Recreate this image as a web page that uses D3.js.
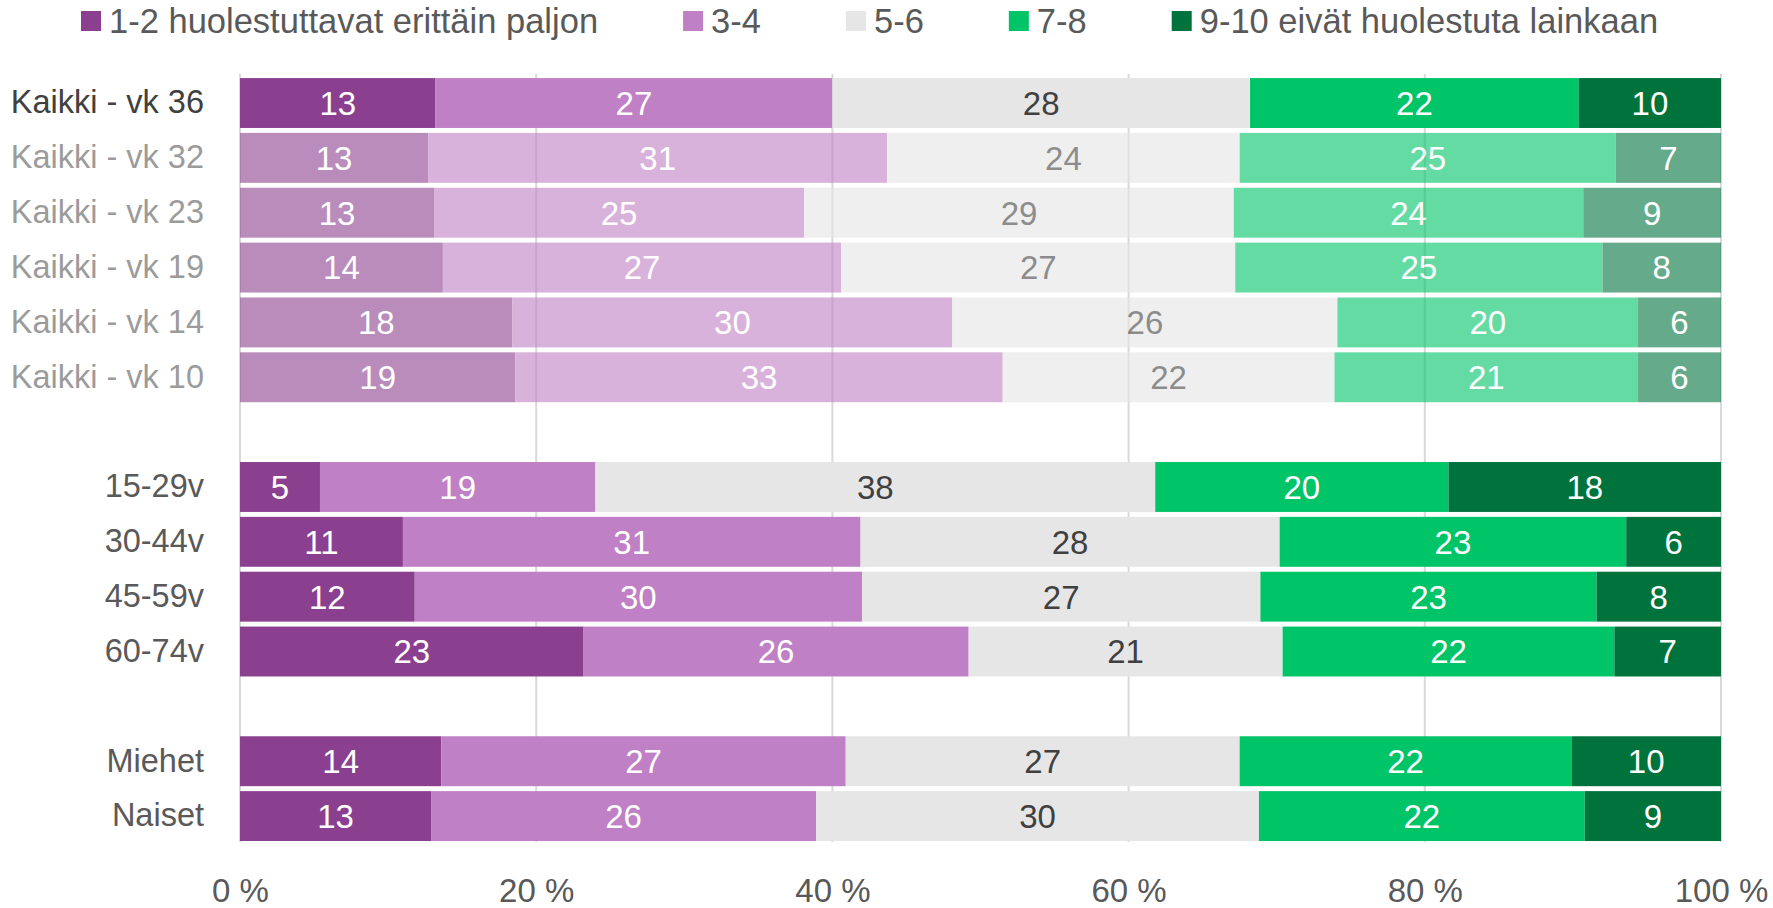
<!DOCTYPE html>
<html>
<head>
<meta charset="utf-8">
<script src="https://cdn.jsdelivr.net/npm/d3@7"></script>
<style>
  body { margin: 0; background: #fff; }
  text { font-family: "Liberation Sans", Arial, sans-serif; }
</style>
</head>
<body>
<svg id="chart"></svg>
<script>
var svgWidth = 1773, svgHeight = 908;

// rows, top to bottom
var categories = ["Kaikki - vk 36", "Kaikki - vk 32", "Kaikki - vk 23", "Kaikki - vk 19", "Kaikki - vk 14", "Kaikki - vk 10",
                  "15-29v", "30-44v", "45-59v", "60-74v", "Miehet", "Naiset"];
// earlier weeks are shown faded
var fadedRows = ["Kaikki - vk 32", "Kaikki - vk 23", "Kaikki - vk 19", "Kaikki - vk 14", "Kaikki - vk 10"];
// row slots incl. the two empty gaps
var slots = ["Kaikki - vk 36", "Kaikki - vk 32", "Kaikki - vk 23", "Kaikki - vk 19", "Kaikki - vk 14", "Kaikki - vk 10", "gap1",
             "15-29v", "30-44v", "45-59v", "60-74v", "gap2", "Miehet", "Naiset"];

var seriesNames = ["1-2 huolestuttavat erittäin paljon", "3-4", "5-6", "7-8", "9-10 eivät huolestuta lainkaan"];
var seriesColors = ["#8b408f", "#c080c6", "#e6e6e6", "#00c468", "#00733d"];
var labelColors = ["#fff", "#fff", "#404040", "#fff", "#fff"];

var s12  = [13.2, 12.7, 13.1, 13.7, 18.4, 18.6,  5.4, 11.0, 11.8, 23.2, 13.6, 12.9];
var s34  = [26.8, 31.0, 25.0, 26.9, 29.7, 32.9, 18.6, 30.9, 30.2, 26.0, 27.3, 26.0];
var s56  = [28.2, 23.8, 29.0, 26.6, 26.0, 22.4, 37.8, 28.3, 26.9, 21.2, 26.6, 29.9];
var s78  = [22.2, 25.4, 23.6, 24.8, 20.3, 20.5, 19.8, 23.4, 22.7, 22.4, 22.4, 22.0];
var s910 = [ 9.6,  7.1,  9.3,  8.0,  5.6,  5.6, 18.4,  6.4,  8.4,  7.2, 10.1,  9.2];
var seriesValues = [s12, s34, s56, s78, s910];

var xTicks = [0, 20, 40, 60, 80, 100];

var svg = d3.select("#chart").attr("width", svgWidth).attr("height", svgHeight);

var x = d3.scaleLinear().domain([0, 100]).range([240, 1721]);
var y = d3.scaleBand().domain(slots).range([75.6, 843.5]).paddingInner(0.09).paddingOuter(0.045);

// table for stacking
var rows = categories.map(function (c, i) {
    var r = { cat: c };
    seriesNames.forEach(function (s, k) { r[s] = seriesValues[k][i]; });
    return r;
});
var stacked = d3.stack().keys(seriesNames)(rows);

// gridlines
svg.append("g").selectAll("line").data(xTicks).enter().append("line")
    .attr("x1", d => x(d)).attr("x2", d => x(d))
    .attr("y1", 74).attr("y2", 842)
    .attr("stroke", "#d9d9d9").attr("stroke-width", 2);

// bars
var rowG = svg.append("g").selectAll("g.row").data(rows).enter().append("g")
    .attr("class", "row")
    .attr("opacity", d => fadedRows.indexOf(d.cat) >= 0 ? 0.6 : 1);

rowG.each(function (row, i) {
    var g = d3.select(this);
    stacked.forEach(function (layer, k) {
        var seg = layer[i];
        g.append("rect")
            .attr("x", x(seg[0]))
            .attr("y", y(row.cat))
            .attr("width", x(seg[1]) - x(seg[0]))
            .attr("height", y.bandwidth())
            .attr("fill", seriesColors[k]);
        g.append("text")
            .attr("x", (x(seg[0]) + x(seg[1])) / 2)
            .attr("y", y(row.cat) + y.bandwidth() / 2)
            .attr("dy", "0.36em")
            .attr("text-anchor", "middle")
            .attr("font-size", 33)
            .attr("fill", labelColors[k])
            .text(Math.round(seg[1] - seg[0]));
    });
});

// row labels
var yAxis = svg.append("g")
    .attr("transform", "translate(240,0)")
    .call(d3.axisLeft(y).tickSize(0).tickPadding(36).tickFormat(d => d.indexOf("gap") === 0 ? "" : d));
yAxis.select(".domain").remove();
yAxis.selectAll("text")
    .attr("font-size", 32.5)
    .attr("fill", d => d === categories[0] ? "#404040" : "#595959")
    .attr("opacity", d => fadedRows.indexOf(d) >= 0 ? 0.6 : 1);

// x axis labels
var xAxis = svg.append("g")
    .attr("transform", "translate(0,890)")
    .call(d3.axisBottom(x).tickValues(xTicks).tickSize(0).tickFormat(d => d + " %"));
xAxis.select(".domain").remove();
xAxis.selectAll("text")
    .attr("y", 0).attr("dy", "0.36em")
    .attr("font-size", 33)
    .attr("fill", "#595959");

// legend
var legend = svg.append("g").attr("transform", "translate(81,21)");
var lx = 0;
seriesNames.forEach(function (s, k) {
    var item = legend.append("g").attr("transform", "translate(" + lx + ",0)");
    item.append("rect").attr("x", 0).attr("y", -10).attr("width", 20).attr("height", 20)
        .attr("fill", seriesColors[k]);
    var t = item.append("text").attr("x", 28).attr("dy", "0.36em")
        .attr("font-size", 34.5).attr("fill", "#595959").text(s);
    lx += 28 + t.node().getComputedTextLength() + 85;
});
</script>
</body>
</html>
